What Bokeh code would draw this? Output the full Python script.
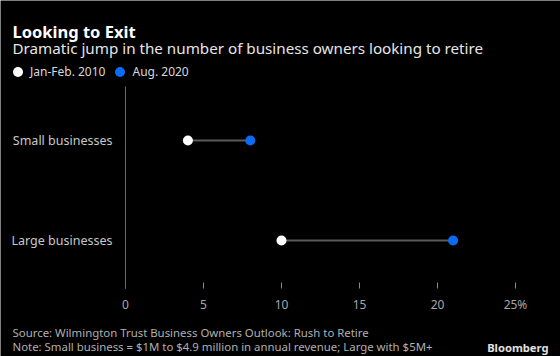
from bokeh.plotting import figure
from bokeh.models import (Range1d, FixedTicker, Label, Legend, LegendItem,
                          ColumnDataSource)
from bokeh.embed import file_html
from bokeh.resources import INLINE

categories = ["Small businesses", "Large businesses"]
jan_feb_2010 = [4, 10]
aug_2020 = [8, 21]
x_ticks = [0, 5, 10, 15, 20, 25]
series_names = ["Jan-Feb. 2010", "Aug. 2020"]

title = "Looking to Exit"
subtitle = "Dramatic jump in the number of business owners looking to retire"
source_txt = "Source: Wilmington Trust Business Owners Outlook: Rush to Retire"
note_txt = "Note: Small business = $1M to $4.9 million in annual revenue; Large with $5M+"

FONT = "Noto Sans"
BLUE = "#0a6cf5"
W, H = 560, 356

ypos = list(range(len(categories)))
src = ColumnDataSource(dict(y=ypos, a=jan_feb_2010, b=aug_2020))

# frame covers the whole canvas; axes are fixed inside it
p = figure(width=W, height=H, output_backend="svg", toolbar_location=None,
           x_range=Range1d(-125 / 15.6, (W - 125) / 15.6),
           y_range=Range1d(2.16, -1.40),
           min_border=0,
           background_fill_color="black", border_fill_color="black")
p.outline_line_color = None
p.grid.visible = False

p.segment(x0="a", x1="b", y0="y", y1="y", source=src, line_color="#5a5a5a", line_width=2)
r1 = p.scatter(x="a", y="y", source=src, size=10, fill_color="white", line_color=None)
r2 = p.scatter(x="b", y="y", source=src, size=10, fill_color=BLUE, line_color=None)

# x axis
xa = p.xaxis[0]
xa.fixed_location = 1.48
xa.ticker = FixedTicker(ticks=x_ticks)
xa.major_label_overrides = {25: "25%"}
xa.axis_line_color = None
xa.major_tick_in = 6
xa.major_tick_out = 0
xa.major_tick_line_color = "#8a8a8a"
xa.minor_tick_line_color = None
xa.major_label_standoff = 7
xa.major_label_text_font = FONT
xa.major_label_text_font_size = "12px"
xa.major_label_text_color = "#a8a8a8"

# y axis
ya = p.yaxis[0]
ya.fixed_location = 0
ya.bounds = (-0.54, 1.48)
ya.ticker = FixedTicker(ticks=ypos)
ya.major_label_overrides = {i: c for i, c in enumerate(categories)}
ya.axis_line_color = "#6a6a6a"
ya.axis_line_width = 1
ya.major_tick_line_color = None
ya.major_tick_in = 0
ya.major_tick_out = 0
ya.minor_tick_line_color = None
ya.major_label_standoff = 13
ya.major_label_text_font = FONT
ya.major_label_text_font_size = "12.5px"
ya.major_label_text_color = "#c8c8c8"

legend = Legend(items=[LegendItem(label=series_names[0], renderers=[r1]),
                       LegendItem(label=series_names[1], renderers=[r2])],
                location=(5, 272), orientation="horizontal",
                glyph_width=25, glyph_height=25, label_standoff=-3, spacing=2,
                padding=0, margin=0, background_fill_alpha=0, border_line_color=None,
                label_text_font=FONT, label_text_font_size="12px",
                label_text_color="#d8d8d8", label_height=12)
p.add_layout(legend, "center")

def lab(txt, px, py, size, color, bold=False, align="left"):
    p.add_layout(Label(x=px, y=H - py, x_units="screen", y_units="screen",
                       text=txt, text_font=FONT, text_font_size=size,
                       text_color=color, text_baseline="middle", text_align=align,
                       text_font_style="bold" if bold else "normal"))

lab(title, 12, 30.5, "16.5px", "white", bold=True)
lab(subtitle, 12, 47, "15.2px", "#e6e6e6")
lab(source_txt, 12, 331.5, "11.4px", "#b0b0b0")
lab(note_txt, 12, 345.5, "11.4px", "#b0b0b0")
lab("Bloomberg", 548, 347, "11.2px", "#e0e0e0", bold=True, align="right")

open("out.html", "w").write(file_html(p, INLINE))
